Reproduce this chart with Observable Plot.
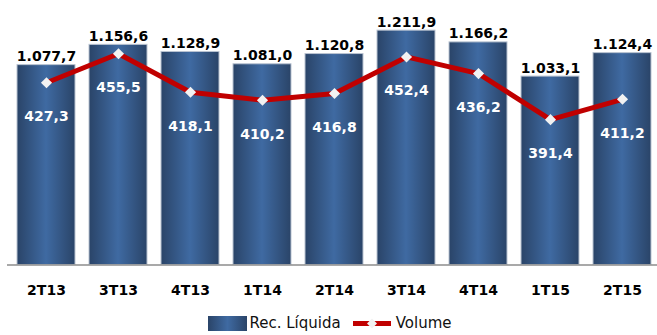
<!DOCTYPE html>
<html><head><meta charset="utf-8">
<script src="https://cdn.jsdelivr.net/npm/d3@7"></script>
<script src="https://cdn.jsdelivr.net/npm/@observablehq/plot@0.6"></script>
<style>
body{margin:0;background:#fff;font-family:"DejaVu Sans",sans-serif;width:657px;overflow:hidden}
#legend{display:flex;justify-content:center;align-items:center;height:22px;font-size:15px;line-height:18px;color:#111;margin-top:0;padding-left:2px}
#legend .sw{width:39px;height:15px;background:linear-gradient(90deg,#2a4468,#3f6aa2 50%,#2a4468);margin-right:3px}
#legend .gap{width:11px}
#legend svg{margin-right:4px}
</style></head><body>
<div id="chart"></div>
<div id="legend"><span class="sw"></span><span>Rec. Líquida</span><span class="gap"></span><svg width="40" height="15"><line x1="1" x2="39" y1="7.5" y2="7.5" stroke="#c00000" stroke-width="5"/><path d="M20,2.5L25,7.5L20,12.5L15,7.5Z" fill="#f2f2f2"/></svg><span>Volume</span></div>
<script>
const categories = ["2T13","3T13","4T13","1T14","2T14","3T14","4T14","1T15","2T15"];
const recLiquida = [1077.7,1156.6,1128.9,1081.0,1120.8,1211.9,1166.2,1033.1,1124.4];
const volume = [427.3,455.5,418.1,410.2,416.8,452.4,436.2,391.4,411.2];
const primaryDomain = [300, 1300];
const secondaryDomain = [250, 500];

const data = categories.map((c, i) => ({cat: c, rec: recLiquida[i], vol: volume[i]}));
const toPrimary = d3.scaleLinear().domain(secondaryDomain).range(primaryDomain);
const br = d3.formatLocale({decimal: ",", thousands: ".", grouping: [3], currency: ["", ""]});
const fmt = br.format(",.1f");
const FS = 14;

const svg = Plot.plot({
  width: 657,
  height: 312,
  marginTop: 7.5,
  marginBottom: 47.5,
  marginLeft: 7,
  marginRight: -4,
  style: {fontFamily: "DejaVu Sans, sans-serif", fontSize: "14px", fontWeight: "bold", color: "#000", background: "#fff"},
  x: {domain: categories, paddingInner: 0.2, paddingOuter: 0.1, label: null},
  y: {domain: primaryDomain, axis: null},
  marks: [
    Plot.barY(data, {x: "cat", y1: primaryDomain[0], y2: "rec", fill: "url(#barGrad)", stroke: "#b9c3d1", strokeWidth: 1}),
    Plot.ruleY([primaryDomain[0]], {stroke: "#8c8c8c", strokeWidth: 1.5}),
    Plot.axisX({tickSize: 0, tickPadding: 20, fill: "#000", fontSize: FS, fontWeight: "bold"}),
    Plot.text(data, {x: "cat", y: "rec", text: d => fmt(d.rec), lineAnchor: "bottom", dy: -4, fill: "#000", fontSize: FS, fontWeight: "bold"}),
    Plot.line(data, {x: "cat", y: d => toPrimary(d.vol), stroke: "#c00000", strokeWidth: 5}),
    Plot.dot(data, {x: "cat", y: d => toPrimary(d.vol), symbol: "diamond2", r: 5, fill: "#f2f2f2", stroke: null}),
    Plot.text(data, {x: "cat", y: d => toPrimary(d.vol), text: d => fmt(d.vol), dy: 34, fill: "#fff", fontSize: FS, fontWeight: "bold"})
  ]
});

const defs = d3.select(svg).insert("defs", ":first-child");
const g = defs.append("linearGradient").attr("id", "barGrad").attr("x1", 0).attr("x2", 1).attr("y1", 0).attr("y2", 0);
g.append("stop").attr("offset", "0%").attr("stop-color", "#2a4468");
g.append("stop").attr("offset", "50%").attr("stop-color", "#3f6aa2");
g.append("stop").attr("offset", "100%").attr("stop-color", "#2a4468");

document.getElementById("chart").appendChild(svg);
</script>
</body></html>
